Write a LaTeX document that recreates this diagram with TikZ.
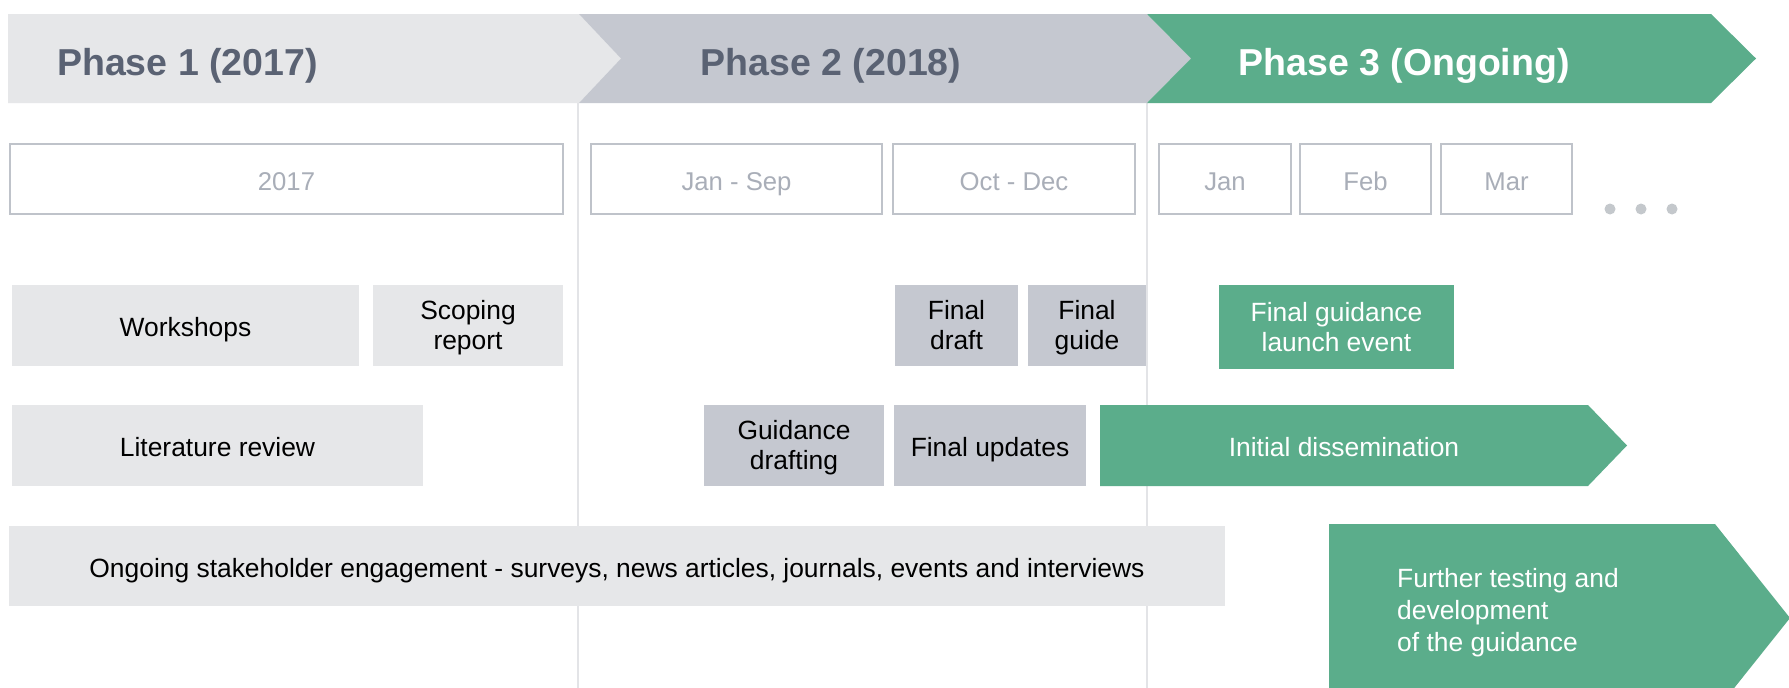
\documentclass[tikz,border=0pt]{standalone}
\usepackage{fontspec}
\setmainfont{Liberation Sans}
\definecolor{pone}{HTML}{E6E7E9}
\definecolor{ptwo}{HTML}{C5C8D0}
\definecolor{pgreen}{HTML}{5BAD8B}
\definecolor{phtext}{HTML}{5A6273}
\definecolor{mline}{HTML}{BFC3CA}
\definecolor{mtext}{HTML}{A9AEB8}
\definecolor{divl}{HTML}{E3E4E7}
\definecolor{dotc}{HTML}{C4C8CC}
\begin{document}
\begin{tikzpicture}[x=1pt,y=-1pt,
  phasetxt/.style={inner sep=0pt, font=\fontsize{37.5}{44}\selectfont\bfseries},
  monthbox/.style={draw=mline, line width=1.5pt, fill=white, inner sep=0pt, minimum height=70pt, text=mtext, text height=22pt, text depth=0pt, font=\fontsize{25.7}{30}\selectfont},
  taskbox/.style={inner sep=0pt, minimum height=81pt, align=center, text=black, font=\fontsize{26.4}{30}\selectfont},
  oneline/.style={text height=22pt, text depth=0pt},
  twoline/.style={yshift=-3pt},
  greytask/.style={taskbox, fill=pone},
  midtask/.style={taskbox, fill=ptwo},
  greentask/.style={taskbox, fill=pgreen, text=white},
  divider/.style={draw=divl, line width=1.5pt}
]
\useasboundingbox (0,0) rectangle (1789,688);
\clip (0,0) rectangle (1789,688);
\fill[white] (0,0) rectangle (1789,688);

% dividers
\coordinate (d1t) at (578,103);
\coordinate (d1b) at (578,688);
\coordinate (d2t) at (1147,103);
\coordinate (d2b) at (1147,688);
\draw[divider] (d1t) -- (d1b);
\draw[divider] (d2t) -- (d2b);

% phase banners
\fill[pone] (8,14) -- (579,14) -- (621,58.5) -- (579,103) -- (8,103) -- cycle;
\fill[ptwo] (579,14) -- (1147,14) -- (1191,58.5) -- (1147,103) -- (579,103) -- (621,58.5) -- cycle;
\fill[pgreen] (1147,14) -- (1711,14) -- (1756,58.5) -- (1711,103) -- (1147,103) -- (1191,58.5) -- cycle;
\node[phasetxt, text=phtext, anchor=base west] (p1) at (57,75) {Phase 1 (2017)};
\node[phasetxt, text=phtext, anchor=base] (p2) at (831,75) {Phase 2 (2018)};
\node[phasetxt, text=white, anchor=base] (p3) at (1404,75) {Phase 3 (Ongoing)};

% month boxes
\node[monthbox, minimum width=553pt] (m2017) at (286.5,179) {2017};
\node[monthbox, minimum width=291pt] (mjs) at (736.5,179) {Jan - Sep};
\node[monthbox, minimum width=242pt] (mod) at (1014,179) {Oct - Dec};
\node[monthbox, minimum width=132pt] (mjan) at (1225,179) {Jan};
\node[monthbox, minimum width=131pt] (mfeb) at (1365.5,179) {Feb};
\node[monthbox, minimum width=131pt] (mmar) at (1506.5,179) {Mar};
\fill[dotc] (1610,209) circle (5.5) (1641,209) circle (5.5) (1672,209) circle (5.5);

% tasks
\node[greytask, oneline, minimum width=347pt] (ws) at (185.5,325.5) {Workshops};
\node[greytask, minimum width=190pt] (sr) at (468,325.5) {};
\node[taskbox, twoline] (srt) at (sr.center) {\strut Scoping\\report\strut};
\node[greytask, oneline, minimum width=411pt] (lr) at (217.5,445.5) {Literature review};
\node[midtask, minimum width=123pt] (fd) at (956.5,325.5) {};
\node[taskbox, twoline] (fdt) at (fd.center) {\strut Final\\draft\strut};
\node[midtask, minimum width=118pt] (fg) at (1087,325.5) {};
\node[taskbox, twoline] (fgt) at (fg.center) {\strut Final\\guide\strut};
\node[midtask, minimum width=180pt] (gd) at (794,445.5) {};
\node[taskbox, twoline] (gdt) at (gd.center) {\strut Guidance\\drafting\strut};
\node[midtask, oneline, minimum width=192pt] (fu) at (990,445.5) {Final updates};
\node[greentask, minimum width=235pt, minimum height=84pt] (le) at (1336.5,327) {};
\node[taskbox, twoline, text=white] (let) at (le.center) {\strut Final guidance\\launch event\strut};
\node[greytask, oneline, minimum width=1216pt, minimum height=80pt] (se) at (617,566) {Ongoing stakeholder engagement - surveys, news articles, journals, events and interviews};

% arrow tasks
\fill[pgreen] (1100,405) -- (1588,405) -- (1627,445.5) -- (1588,486) -- (1100,486) -- cycle;
\node[inner sep=0pt, oneline, text=white, font=\fontsize{26.4}{30}\selectfont] (id) at (1344,445.5) {Initial dissemination};
\fill[pgreen] (1329,524) -- (1715,524) -- (1790,618) -- (1715,712) -- (1329,712) -- cycle;
\node[inner sep=0pt, text=white, align=left, anchor=west, font=\fontsize{26.4}{32}\selectfont] (ft) at (1397,613.5) {\strut Further testing and\\development\\of the guidance\strut};
\end{tikzpicture}
\end{document}
